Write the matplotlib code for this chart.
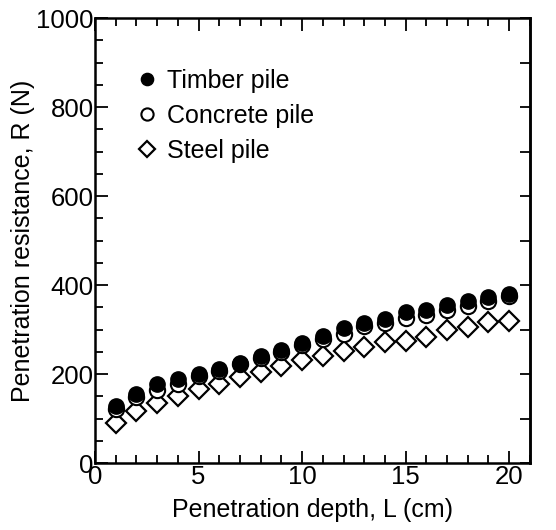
import numpy as np
import matplotlib
matplotlib.use("Agg")
import matplotlib.pyplot as plt
from matplotlib.ticker import MultipleLocator

# data
depth = np.arange(1, 21)
timber = [128, 155, 177, 190, 201, 212, 225, 240, 254, 270,
          285, 303, 315, 325, 340, 345, 355, 365, 374, 381]
concrete = [121, 149, 164, 178, 196, 207, 222, 237, 249, 265,
            280, 290, 308, 314, 327, 333, 344, 354, 364, 375]
steel = [91, 118, 136, 151, 166, 179, 193, 205, 218, 231,
         240, 252, 260, 273, 275, 284, 299, 306, 318, 320]

plt.rcParams['font.family'] = ['Liberation Sans', 'DejaVu Sans']

fig = plt.figure(figsize=(5.56, 5.30), dpi=100)
ax = fig.add_axes([0.171, 0.126, 0.782, 0.840])

ax.plot(depth, steel, linestyle='none', marker='D', ms=10, mfc='white',
        mec='black', mew=1.6, label='Steel pile', zorder=3)
ax.plot(depth, concrete, linestyle='none', marker='o', ms=11, mfc='white',
        mec='black', mew=1.5, label='Concrete pile', zorder=4)
ax.plot(depth, timber, linestyle='none', marker='o', ms=11, mfc='black',
        mec='black', label='Timber pile', zorder=5)

ax.set_xlim(0, 21)
ax.set_ylim(0, 1000)
ax.xaxis.set_major_locator(MultipleLocator(5))
ax.xaxis.set_minor_locator(MultipleLocator(1))
ax.yaxis.set_major_locator(MultipleLocator(200))
ax.yaxis.set_minor_locator(MultipleLocator(50))
ax.tick_params(which='both', direction='in', top=True, right=False, width=1.3)
ax.tick_params(which='major', length=9, labelsize=18.5, pad=1)
ax.tick_params(which='minor', length=6)

# right side ticks every 100
sec = ax.secondary_yaxis('right')
sec.yaxis.set_major_locator(MultipleLocator(100))
sec.tick_params(direction='in', length=7, width=1.3, labelright=False)
sec.spines['right'].set_linewidth(1.8)

for s in ax.spines.values():
    s.set_linewidth(1.8)

ax.set_xlabel('Penetration depth, L (cm)', fontsize=18, labelpad=7)
ax.set_ylabel('Penetration resistance, R (N)', fontsize=18, labelpad=1)

h, l = ax.get_legend_handles_labels()
order = [2, 1, 0]
ax.legend([h[i] for i in order], [l[i] for i in order], loc='upper left',
          bbox_to_anchor=(0.04, 0.937), frameon=False, fontsize=18,
          handletextpad=0.3, labelspacing=0.44, handlelength=1.0,
          markerscale=0.8)

plt.savefig('out.png', dpi=100)
